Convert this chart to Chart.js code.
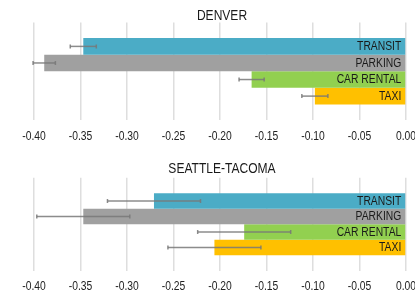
<!DOCTYPE html>
<html>
<head>
<meta charset="utf-8">
<script src="https://cdn.jsdelivr.net/npm/chart.js@4"></script>
<style>
  html, body { margin: 0; padding: 0; background: #ffffff; }
  canvas { display: block; }
</style>
</head>
<body>
<canvas id="c1" width="415" height="145"></canvas>
<canvas id="c2" width="415" height="146"></canvas>
<script>
// ---- data ----
const categories = ['TRANSIT', 'PARKING', 'CAR RENTAL', 'TAXI'];
const colors = ['#4BACC6', '#A0A0A0', '#92D050', '#FFC000'];
const denverValues = [-0.347, -0.389, -0.166, -0.098];
const denverErrors = [0.014, 0.012, 0.0135, 0.014];
const seattleValues = [-0.271, -0.347, -0.174, -0.206];
const seattleErrors = [0.050, 0.050, 0.050, 0.050];
const xTickValues = [-0.40, -0.35, -0.30, -0.25, -0.20, -0.15, -0.10, -0.05, 0.00];

const FONT = "'Liberation Sans', Arial, sans-serif";
const SQUEEZE = 0.86; // narrow typeface look
Chart.defaults.font.family = FONT;

function narrowText(ctx, text, x, y, size, align, color) {
  ctx.save();
  ctx.font = size + "px " + FONT;
  ctx.fillStyle = color;
  ctx.textAlign = align;
  ctx.textBaseline = 'middle';
  ctx.translate(x, y);
  ctx.scale(SQUEEZE, 1);
  ctx.fillText(text, 0, 0);
  ctx.restore();
}

const decor = {
  id: 'decor',
  afterDatasetsDraw(chart, args, opts) {
    const ctx = chart.ctx;
    const xs = chart.scales.x;
    const area = chart.chartArea;
    chart.data.datasets.forEach((ds, i) => {
      const meta = chart.getDatasetMeta(i);
      const bar = meta.data[0];
      if (!bar) return;
      const v = ds.data[0];
      const e = ds.errors[0];
      const x1 = xs.getPixelForValue(v - e);
      const x2 = xs.getPixelForValue(v + e);
      const y = bar.y;
      ctx.save();
      ctx.strokeStyle = 'rgba(120,120,120,0.85)';
      ctx.lineWidth = 1.5;
      ctx.beginPath();
      ctx.moveTo(x1, y); ctx.lineTo(x2, y);
      ctx.stroke();
      ctx.beginPath();
      ctx.moveTo(x1, y - 2); ctx.lineTo(x1, y + 2);
      ctx.moveTo(x2, y - 2); ctx.lineTo(x2, y + 2);
      ctx.stroke();
      ctx.restore();
      narrowText(ctx, ds.label, bar.base - 4, y + 0.5, 12, 'right', '#1a1a1a');
    });
    // tick labels
    xs.ticks.forEach(t => {
      narrowText(ctx, Number(t.value).toFixed(2), xs.getPixelForValue(t.value), area.bottom + opts.tickGap, 12, 'center', '#222222');
    });
    // title
    narrowText(ctx, opts.title, (area.left + area.right) / 2 + 2, opts.titleY, 14, 'center', '#1a1a1a');
  }
};

function makeChart(id, title, values, errors, cfg) {
  new Chart(document.getElementById(id), {
    type: 'bar',
    data: {
      labels: [''],
      datasets: categories.map((c, i) => ({
        label: c,
        data: [values[i]],
        errors: [errors[i]],
        backgroundColor: colors[i],
        borderWidth: 0,
        barPercentage: 1.0,
        categoryPercentage: cfg.catPct
      }))
    },
    options: {
      indexAxis: 'y',
      responsive: false,
      animation: false,
      layout: { padding: { left: 34, right: 9, top: cfg.padTop, bottom: cfg.padBottom } },
      plugins: {
        legend: { display: false },
        tooltip: { enabled: false },
        title: { display: false },
        decor: { title: title, titleY: cfg.titleY, tickGap: cfg.tickGap }
      },
      scales: {
        x: {
          type: 'linear',
          min: -0.40,
          max: 0,
          afterBuildTicks(axis) { axis.ticks = xTickValues.map(v => ({ value: v })); },
          border: { display: false },
          grid: { color: '#dedede', lineWidth: 1.5, drawTicks: false },
          ticks: { display: false }
        },
        y: { display: false }
      }
    },
    plugins: [decor]
  });
}

makeChart('c1', 'DENVER', denverValues, denverErrors,
  { catPct: 0.68, padTop: 22.5, padBottom: 25, titleY: 16.5, tickGap: 16.5 });
makeChart('c2', 'SEATTLE-TACOMA', seattleValues, seattleErrors,
  { catPct: 0.665, padTop: 32.7, padBottom: 20, titleY: 24, tickGap: 15.5 });
</script>
</body>
</html>
